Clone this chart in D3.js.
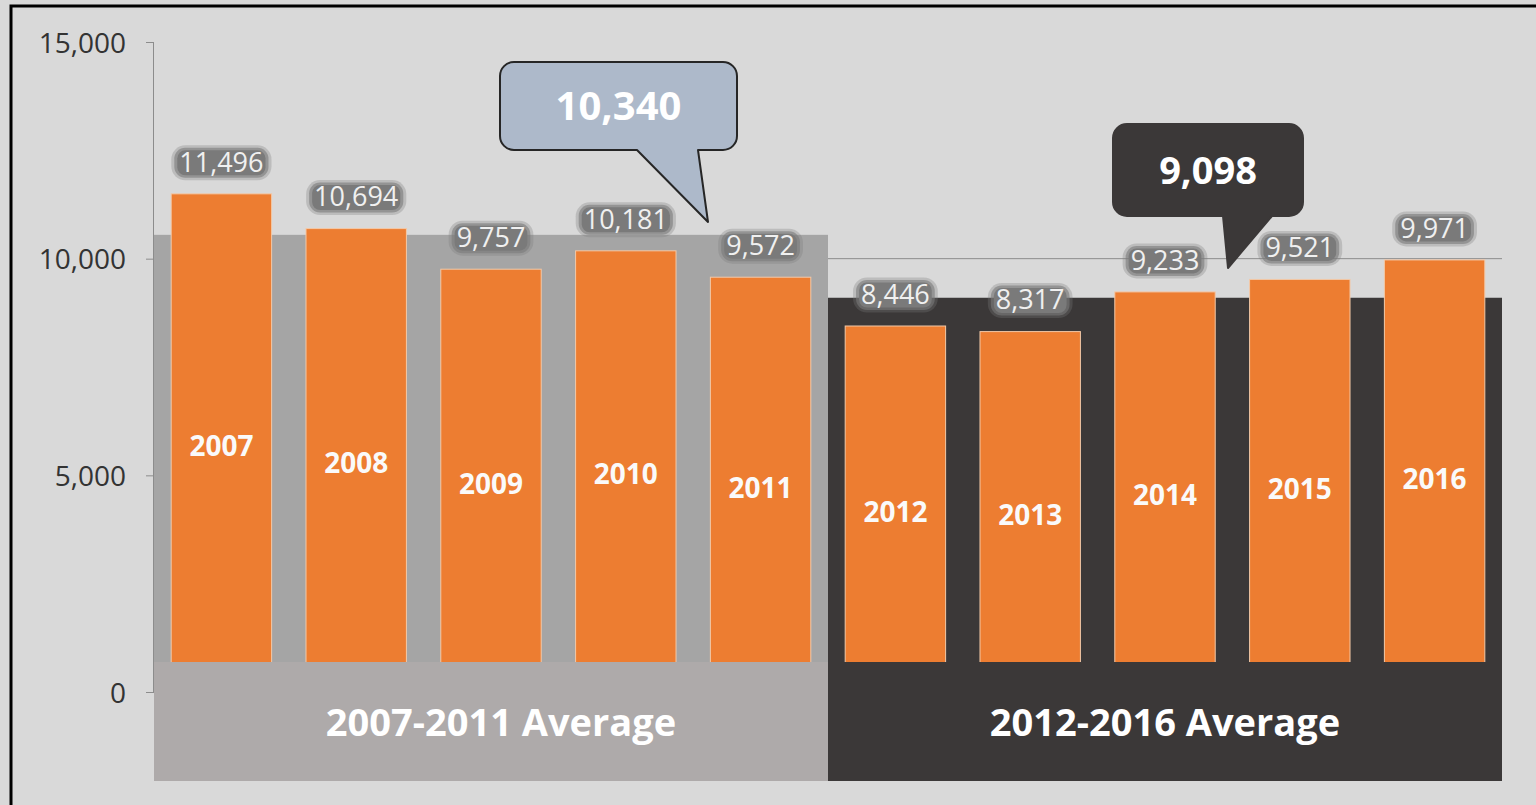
<!DOCTYPE html>
<html><head><meta charset="utf-8">
<script src="https://cdn.jsdelivr.net/npm/d3@7"></script>
<style>html,body{margin:0;padding:0;background:#d9d9d9;overflow:hidden}</style>
</head><body>
<svg id="c" width="1536" height="805"></svg>
<script>
// ---- data ----
const years = ["2007","2008","2009","2010","2011","2012","2013","2014","2015","2016"];
const values = [11496,10694,9757,10181,9572,8446,8317,9233,9521,9971];
const periodLabels = ["2007-2011 Average","2012-2016 Average"];
const periodFirst = ["2007","2012"];
const periodLast = ["2011","2016"];
const periodAverages = [10340, 9098];     // callout values
const periodAreaLevels = [10550, 9098];   // shaded area heights as drawn
const yTicks = [0,5000,10000,15000];
const gridValues = [5000,10000];

// ---- styles ----
const FONT = "'Open Sans', 'DejaVu Sans', sans-serif";
const areaColors = ["#a5a5a5","#3b3838"];
const bandColors = ["#aeaaaa","#3b3838"];
const calloutFill = ["#adb9ca","#3b3838"];
const calloutStroke = ["#262626","#3b3838"];
const bandLabelShift = [10, 0];
const glowLayers = [{px:8, h:35, r:14, o:0.3}, {px:5, h:30, r:11, o:0.6}, {px:2, h:25, r:8, o:1}];

const svg = d3.select("#c");

svg.append("rect").attr("width",1536).attr("height",805).attr("fill","#d9d9d9");
svg.append("rect").attr("x",11).attr("y",6).attr("width",1540).attr("height",820)
  .attr("fill","none").attr("stroke","#000").attr("stroke-width",3);

const pi = 0.255;
const x = d3.scaleBand().domain(years).range([154,1502]).paddingInner(pi).paddingOuter(pi/2);
const y = d3.scaleLinear().domain([0,15000]).range([692,42]);
const half = x.step()*pi/2;

// gridlines
svg.append("g").selectAll("line").data(gridValues).join("line")
  .attr("x1",154).attr("x2",1502).attr("y1",d=>y(d)).attr("y2",d=>y(d))
  .attr("stroke","#8c8c8c").attr("stroke-width",1);

// axis
const axis = d3.axisLeft(y).tickValues(yTicks).tickSize(8).tickPadding(20)
  .tickFormat(d3.format(","));
const ag = svg.append("g").attr("transform","translate(154,0)").call(axis);
ag.select(".domain").attr("stroke","#8c8c8c").attr("d","M-0.5,"+y(15000)+"V"+y(0));
ag.selectAll(".tick line").attr("stroke","#8c8c8c");
ag.selectAll(".tick text").attr("font-family",FONT).attr("font-size",28)
  .attr("fill","#333").attr("dy","0.36em");

// shaded average areas
const areas = periodLabels.map((p,i)=>({
  x0: x(periodFirst[i]) - half,
  x1: x(periodLast[i]) + x.bandwidth() + half,
  level: periodAreaLevels[i], i
}));
svg.append("g").selectAll("rect").data(areas).join("rect")
  .attr("x",d=>d.x0).attr("width",d=>d.x1-d.x0)
  .attr("y",d=>y(d.level)).attr("height",d=>y(0)-y(d.level))
  .attr("fill",d=>areaColors[d.i]);

// bars
const data = years.map((yr,i)=>({yr, v: values[i]}));
svg.append("g").selectAll("rect").data(data).join("rect")
  .attr("x",d=>x(d.yr)).attr("width",x.bandwidth())
  .attr("y",d=>y(d.v)).attr("height",d=>y(0)-y(d.v))
  .attr("fill","#ed7d31").attr("stroke","#f3c9a8").attr("stroke-width",1);

// bottom category bands
const bandTop = y(0)-30, bandBottom = y(0)+89;
svg.append("g").selectAll("rect").data(areas).join("rect")
  .attr("x",d=>d.x0).attr("width",d=>d.x1-d.x0)
  .attr("y",bandTop).attr("height",bandBottom-bandTop)
  .attr("fill",d=>bandColors[d.i]);
svg.append("g").selectAll("text").data(areas).join("text")
  .attr("x",d=>(d.x0+d.x1)/2 + bandLabelShift[d.i]).attr("y",(bandTop+bandBottom)/2+1).attr("dy","0.36em")
  .attr("text-anchor","middle").attr("font-family",FONT).attr("font-weight",700)
  .attr("font-size",38).attr("fill","#fff").text(d=>periodLabels[d.i]);

// year labels inside bars
svg.append("g").selectAll("text").data(data).join("text")
  .attr("x",d=>x(d.yr)+x.bandwidth()/2).attr("y",d=>(y(d.v)+y(0))/2+3).attr("dy","0.36em")
  .attr("text-anchor","middle").attr("font-family",FONT).attr("font-weight",700)
  .attr("font-size",28).attr("fill","#fafafa").text(d=>d.yr);

// value labels with soft dark glow
const vl = svg.append("g");
const glowG = vl.append("g");
const vText = vl.append("g").selectAll("text").data(data).join("text")
  .attr("x",d=>x(d.yr)+x.bandwidth()/2).attr("y",d=>y(d.v)-32).attr("dy","0.36em")
  .attr("text-anchor","middle").attr("font-family",FONT)
  .attr("font-size",27).attr("fill","#f0f0f0").text(d=>d3.format(",")(d.v));
vText.each(function(d){
  const bb = this.getBBox();
  const cx = x(d.yr)+x.bandwidth()/2, cy = y(d.v)-32;
  glowLayers.forEach(L=>{
    glowG.append("rect")
      .attr("x",cx-bb.width/2-L.px).attr("width",bb.width+2*L.px)
      .attr("y",cy-L.h/2+1).attr("height",L.h)
      .attr("rx",L.r).attr("fill","#7a7a7a").attr("opacity",L.o);
  });
});

// callouts
const callouts = [
  {i:0, x0:500, y0:62, x1:737, y1:150, ta:637, tb:698, tx:708, ty:222, fs:40},
  {i:1, x0:1113, y0:124, x1:1303, y1:216, ta:1223, tb:1272, tx:1228, ty:268, fs:38}
];
function calloutPath(c){
  const r = 14;
  return `M${c.x0+r},${c.y0}H${c.x1-r}A${r},${r} 0 0 1 ${c.x1},${c.y0+r}V${c.y1-r}`+
    `A${r},${r} 0 0 1 ${c.x1-r},${c.y1}H${c.tb}L${c.tx},${c.ty}L${c.ta},${c.y1}H${c.x0+r}`+
    `A${r},${r} 0 0 1 ${c.x0},${c.y1-r}V${c.y0+r}A${r},${r} 0 0 1 ${c.x0+r},${c.y0}Z`;
}
const cg = svg.append("g");
cg.selectAll("path").data(callouts).join("path")
  .attr("d",calloutPath).attr("fill",c=>calloutFill[c.i])
  .attr("stroke",c=>calloutStroke[c.i]).attr("stroke-width",2).attr("stroke-linejoin","round");
cg.selectAll("text").data(callouts).join("text")
  .attr("x",c=>(c.x0+c.x1)/2).attr("y",c=>(c.y0+c.y1)/2).attr("dy","0.36em")
  .attr("text-anchor","middle").attr("font-family",FONT).attr("font-weight",700)
  .attr("font-size",c=>c.fs).attr("fill","#fff").text(c=>d3.format(",")(periodAverages[c.i]));
</script>
</body></html>
